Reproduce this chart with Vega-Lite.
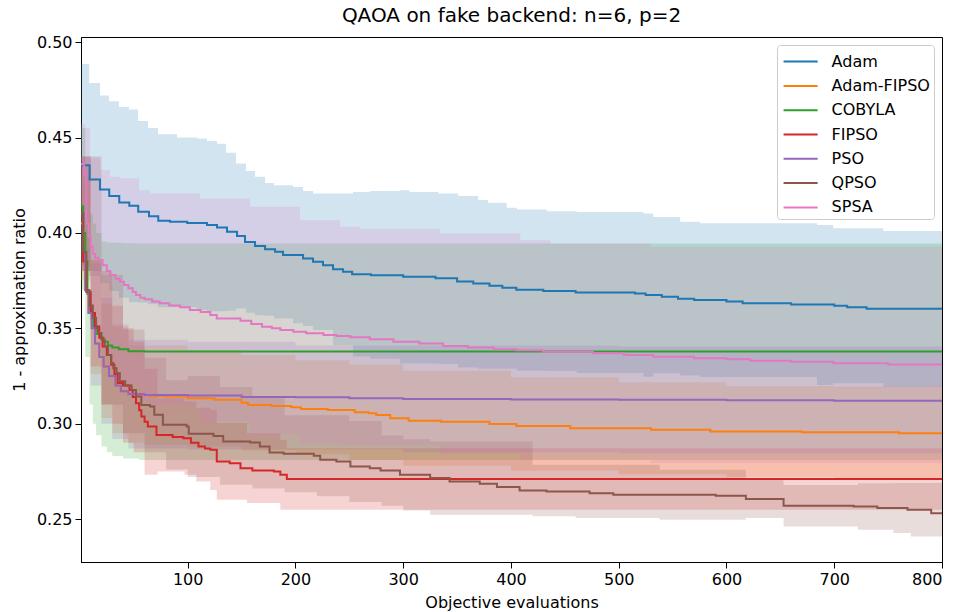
{
  "$schema": "https://vega.github.io/schema/vega-lite/v6.json",
  "width": 861,
  "height": 525,
  "autosize": {"type": "none"},
  "padding": {"left": 81, "top": 37, "right": 17, "bottom": 50},
  "title": {"text": "QAOA on fake backend: n=6, p=2", "fontSize": 20, "font": "DejaVu Sans", "fontWeight": "normal", "offset": 8, "color": "black"},
  "config": {
    "font": "DejaVu Sans",
    "view": {"stroke": "black", "strokeWidth": 1},
    "axis": {"grid": false, "domainColor": "black", "tickColor": "black", "labelColor": "black", "titleColor": "black", "labelFontSize": 16, "titleFontSize": 16, "titleFontWeight": "normal", "tickSize": 6, "labelFont": "DejaVu Sans", "titleFont": "DejaVu Sans"},
    "legend": {"orient": "top-right", "offset": 8, "fillColor": "white", "strokeColor": "#cccccc", "cornerRadius": 3, "padding": 3.6, "labelFontSize": 16, "labelFont": "DejaVu Sans", "labelColor": "black", "symbolType": "M-1.42,0H1.42", "symbolStrokeWidth": 2, "symbolSize": 576, "rowPadding": 3.3, "symbolOffset": 7, "labelOffset": 18, "symbolOpacity": 1}
  },
  "datasets": {
    "lines": [
      {"algo": "Adam", "x": 1, "y": 0.4355}, {"algo": "Adam", "x": 9, "y": 0.428}, {"algo": "Adam", "x": 18.6, "y": 0.4228}, {"algo": "Adam", "x": 27.2, "y": 0.4193}, {"algo": "Adam", "x": 36.5, "y": 0.416}, {"algo": "Adam", "x": 45.8, "y": 0.4142}, {"algo": "Adam", "x": 54.1, "y": 0.4111}, {"algo": "Adam", "x": 64.1, "y": 0.4088}, {"algo": "Adam", "x": 72.7, "y": 0.4064}, {"algo": "Adam", "x": 83.6, "y": 0.4058}, {"algo": "Adam", "x": 99.6, "y": 0.4052}, {"algo": "Adam", "x": 117.9, "y": 0.4042}, {"algo": "Adam", "x": 127.2, "y": 0.4029}, {"algo": "Adam", "x": 136.5, "y": 0.4006}, {"algo": "Adam", "x": 145.8, "y": 0.3984}, {"algo": "Adam", "x": 153.2, "y": 0.3953}, {"algo": "Adam", "x": 162.5, "y": 0.3931}, {"algo": "Adam", "x": 171.8, "y": 0.3914}, {"algo": "Adam", "x": 181.1, "y": 0.3901}, {"algo": "Adam", "x": 188.5, "y": 0.3884}, {"algo": "Adam", "x": 207.1, "y": 0.3866}, {"algo": "Adam", "x": 216.3, "y": 0.3849}, {"algo": "Adam", "x": 225.6, "y": 0.3831}, {"algo": "Adam", "x": 234.9, "y": 0.3809}, {"algo": "Adam", "x": 244.2, "y": 0.3796}, {"algo": "Adam", "x": 252.6, "y": 0.3783}, {"algo": "Adam", "x": 270, "y": 0.3778}, {"algo": "Adam", "x": 300, "y": 0.377}, {"algo": "Adam", "x": 330, "y": 0.3762}, {"algo": "Adam", "x": 350, "y": 0.3745}, {"algo": "Adam", "x": 365, "y": 0.3735}, {"algo": "Adam", "x": 380, "y": 0.3723}, {"algo": "Adam", "x": 392, "y": 0.3712}, {"algo": "Adam", "x": 405, "y": 0.3702}, {"algo": "Adam", "x": 430, "y": 0.3695}, {"algo": "Adam", "x": 460, "y": 0.3688}, {"algo": "Adam", "x": 515, "y": 0.3683}, {"algo": "Adam", "x": 525, "y": 0.3674}, {"algo": "Adam", "x": 540, "y": 0.3665}, {"algo": "Adam", "x": 555, "y": 0.3655}, {"algo": "Adam", "x": 570, "y": 0.3648}, {"algo": "Adam", "x": 600, "y": 0.364}, {"algo": "Adam", "x": 615, "y": 0.3631}, {"algo": "Adam", "x": 660, "y": 0.3625}, {"algo": "Adam", "x": 700, "y": 0.3618}, {"algo": "Adam", "x": 712, "y": 0.361}, {"algo": "Adam", "x": 730, "y": 0.3602}, {"algo": "Adam", "x": 800, "y": 0.3602},

      {"algo": "Adam-FIPSO", "x": 1, "y": 0.405}, {"algo": "Adam-FIPSO", "x": 3, "y": 0.385}, {"algo": "Adam-FIPSO", "x": 5, "y": 0.37}, {"algo": "Adam-FIPSO", "x": 8, "y": 0.358}, {"algo": "Adam-FIPSO", "x": 11, "y": 0.35}, {"algo": "Adam-FIPSO", "x": 14, "y": 0.342}, {"algo": "Adam-FIPSO", "x": 18, "y": 0.335}, {"algo": "Adam-FIPSO", "x": 22, "y": 0.33}, {"algo": "Adam-FIPSO", "x": 27, "y": 0.325}, {"algo": "Adam-FIPSO", "x": 33, "y": 0.32}, {"algo": "Adam-FIPSO", "x": 38, "y": 0.317}, {"algo": "Adam-FIPSO", "x": 45, "y": 0.3155}, {"algo": "Adam-FIPSO", "x": 55, "y": 0.315}, {"algo": "Adam-FIPSO", "x": 65, "y": 0.3145}, {"algo": "Adam-FIPSO", "x": 80, "y": 0.3142}, {"algo": "Adam-FIPSO", "x": 100, "y": 0.3134}, {"algo": "Adam-FIPSO", "x": 125, "y": 0.3125}, {"algo": "Adam-FIPSO", "x": 150, "y": 0.311}, {"algo": "Adam-FIPSO", "x": 156, "y": 0.3098}, {"algo": "Adam-FIPSO", "x": 178, "y": 0.3093}, {"algo": "Adam-FIPSO", "x": 196, "y": 0.3086}, {"algo": "Adam-FIPSO", "x": 205, "y": 0.3077}, {"algo": "Adam-FIPSO", "x": 230, "y": 0.3072}, {"algo": "Adam-FIPSO", "x": 255, "y": 0.306}, {"algo": "Adam-FIPSO", "x": 268, "y": 0.3055}, {"algo": "Adam-FIPSO", "x": 275, "y": 0.3046}, {"algo": "Adam-FIPSO", "x": 288, "y": 0.3029}, {"algo": "Adam-FIPSO", "x": 305, "y": 0.3016}, {"algo": "Adam-FIPSO", "x": 335, "y": 0.301}, {"algo": "Adam-FIPSO", "x": 380, "y": 0.2999}, {"algo": "Adam-FIPSO", "x": 405, "y": 0.2988}, {"algo": "Adam-FIPSO", "x": 455, "y": 0.2976}, {"algo": "Adam-FIPSO", "x": 530, "y": 0.2968}, {"algo": "Adam-FIPSO", "x": 585, "y": 0.2959}, {"algo": "Adam-FIPSO", "x": 670, "y": 0.2955}, {"algo": "Adam-FIPSO", "x": 760, "y": 0.295}, {"algo": "Adam-FIPSO", "x": 800, "y": 0.295},

      {"algo": "COBYLA", "x": 1, "y": 0.414}, {"algo": "COBYLA", "x": 3, "y": 0.4}, {"algo": "COBYLA", "x": 5, "y": 0.385}, {"algo": "COBYLA", "x": 7, "y": 0.368}, {"algo": "COBYLA", "x": 9, "y": 0.36}, {"algo": "COBYLA", "x": 11, "y": 0.355}, {"algo": "COBYLA", "x": 13, "y": 0.351}, {"algo": "COBYLA", "x": 16, "y": 0.347}, {"algo": "COBYLA", "x": 19, "y": 0.345}, {"algo": "COBYLA", "x": 22, "y": 0.343}, {"algo": "COBYLA", "x": 26, "y": 0.341}, {"algo": "COBYLA", "x": 30, "y": 0.34}, {"algo": "COBYLA", "x": 36, "y": 0.339}, {"algo": "COBYLA", "x": 45, "y": 0.338}, {"algo": "COBYLA", "x": 60, "y": 0.3378}, {"algo": "COBYLA", "x": 800, "y": 0.3377},

      {"algo": "FIPSO", "x": 1, "y": 0.41}, {"algo": "FIPSO", "x": 3, "y": 0.385}, {"algo": "FIPSO", "x": 6, "y": 0.369}, {"algo": "FIPSO", "x": 10, "y": 0.358}, {"algo": "FIPSO", "x": 14, "y": 0.3509}, {"algo": "FIPSO", "x": 18, "y": 0.345}, {"algo": "FIPSO", "x": 21, "y": 0.3405}, {"algo": "FIPSO", "x": 25, "y": 0.336}, {"algo": "FIPSO", "x": 29, "y": 0.3309}, {"algo": "FIPSO", "x": 32, "y": 0.326}, {"algo": "FIPSO", "x": 35, "y": 0.3213}, {"algo": "FIPSO", "x": 40, "y": 0.32}, {"algo": "FIPSO", "x": 46, "y": 0.3177}, {"algo": "FIPSO", "x": 49, "y": 0.314}, {"algo": "FIPSO", "x": 52, "y": 0.3107}, {"algo": "FIPSO", "x": 55, "y": 0.307}, {"algo": "FIPSO", "x": 57, "y": 0.3038}, {"algo": "FIPSO", "x": 60, "y": 0.301}, {"algo": "FIPSO", "x": 63, "y": 0.2985}, {"algo": "FIPSO", "x": 71, "y": 0.2941}, {"algo": "FIPSO", "x": 86, "y": 0.293}, {"algo": "FIPSO", "x": 96, "y": 0.2924}, {"algo": "FIPSO", "x": 103, "y": 0.29}, {"algo": "FIPSO", "x": 110, "y": 0.288}, {"algo": "FIPSO", "x": 116, "y": 0.287}, {"algo": "FIPSO", "x": 121, "y": 0.2863}, {"algo": "FIPSO", "x": 127, "y": 0.2802}, {"algo": "FIPSO", "x": 139, "y": 0.2793}, {"algo": "FIPSO", "x": 149, "y": 0.2767}, {"algo": "FIPSO", "x": 160, "y": 0.2755}, {"algo": "FIPSO", "x": 167, "y": 0.2754}, {"algo": "FIPSO", "x": 180, "y": 0.2749}, {"algo": "FIPSO", "x": 186, "y": 0.2732}, {"algo": "FIPSO", "x": 192, "y": 0.271}, {"algo": "FIPSO", "x": 800, "y": 0.271},

      {"algo": "PSO", "x": 1, "y": 0.41}, {"algo": "PSO", "x": 3, "y": 0.39}, {"algo": "PSO", "x": 5, "y": 0.37}, {"algo": "PSO", "x": 8, "y": 0.358}, {"algo": "PSO", "x": 11, "y": 0.35}, {"algo": "PSO", "x": 14, "y": 0.342}, {"algo": "PSO", "x": 18, "y": 0.335}, {"algo": "PSO", "x": 22, "y": 0.33}, {"algo": "PSO", "x": 27, "y": 0.325}, {"algo": "PSO", "x": 33, "y": 0.32}, {"algo": "PSO", "x": 38, "y": 0.317}, {"algo": "PSO", "x": 45, "y": 0.3155}, {"algo": "PSO", "x": 60, "y": 0.315}, {"algo": "PSO", "x": 100, "y": 0.3148}, {"algo": "PSO", "x": 150, "y": 0.314}, {"algo": "PSO", "x": 200, "y": 0.3138}, {"algo": "PSO", "x": 250, "y": 0.3133}, {"algo": "PSO", "x": 300, "y": 0.313}, {"algo": "PSO", "x": 400, "y": 0.3127}, {"algo": "PSO", "x": 500, "y": 0.3125}, {"algo": "PSO", "x": 600, "y": 0.3123}, {"algo": "PSO", "x": 700, "y": 0.312}, {"algo": "PSO", "x": 800, "y": 0.3116},

      {"algo": "QPSO", "x": 1, "y": 0.41}, {"algo": "QPSO", "x": 3, "y": 0.39}, {"algo": "QPSO", "x": 6, "y": 0.37}, {"algo": "QPSO", "x": 9, "y": 0.362}, {"algo": "QPSO", "x": 12, "y": 0.3555}, {"algo": "QPSO", "x": 15, "y": 0.35}, {"algo": "QPSO", "x": 17, "y": 0.3475}, {"algo": "QPSO", "x": 20, "y": 0.344}, {"algo": "QPSO", "x": 23, "y": 0.3405}, {"algo": "QPSO", "x": 26, "y": 0.336}, {"algo": "QPSO", "x": 29, "y": 0.3318}, {"algo": "QPSO", "x": 31, "y": 0.329}, {"algo": "QPSO", "x": 34, "y": 0.3266}, {"algo": "QPSO", "x": 37, "y": 0.3222}, {"algo": "QPSO", "x": 42, "y": 0.32}, {"algo": "QPSO", "x": 48, "y": 0.3177}, {"algo": "QPSO", "x": 52, "y": 0.3142}, {"algo": "QPSO", "x": 57, "y": 0.3098}, {"algo": "QPSO", "x": 65, "y": 0.309}, {"algo": "QPSO", "x": 69, "y": 0.3047}, {"algo": "QPSO", "x": 77, "y": 0.2994}, {"algo": "QPSO", "x": 99, "y": 0.2985}, {"algo": "QPSO", "x": 101, "y": 0.2947}, {"algo": "QPSO", "x": 124, "y": 0.2936}, {"algo": "QPSO", "x": 133, "y": 0.2906}, {"algo": "QPSO", "x": 158, "y": 0.2901}, {"algo": "QPSO", "x": 167, "y": 0.288}, {"algo": "QPSO", "x": 176, "y": 0.2849}, {"algo": "QPSO", "x": 189, "y": 0.2842}, {"algo": "QPSO", "x": 217, "y": 0.2832}, {"algo": "QPSO", "x": 223, "y": 0.2811}, {"algo": "QPSO", "x": 238, "y": 0.2802}, {"algo": "QPSO", "x": 251, "y": 0.2776}, {"algo": "QPSO", "x": 269, "y": 0.2767}, {"algo": "QPSO", "x": 279, "y": 0.2754}, {"algo": "QPSO", "x": 297, "y": 0.2732}, {"algo": "QPSO", "x": 325, "y": 0.2715}, {"algo": "QPSO", "x": 343, "y": 0.2697}, {"algo": "QPSO", "x": 371, "y": 0.2685}, {"algo": "QPSO", "x": 387, "y": 0.2668}, {"algo": "QPSO", "x": 408, "y": 0.265}, {"algo": "QPSO", "x": 433, "y": 0.2645}, {"algo": "QPSO", "x": 473, "y": 0.2636}, {"algo": "QPSO", "x": 495, "y": 0.2627}, {"algo": "QPSO", "x": 590, "y": 0.2622}, {"algo": "QPSO", "x": 618, "y": 0.2605}, {"algo": "QPSO", "x": 653, "y": 0.257}, {"algo": "QPSO", "x": 718, "y": 0.2566}, {"algo": "QPSO", "x": 740, "y": 0.2558}, {"algo": "QPSO", "x": 768, "y": 0.2549}, {"algo": "QPSO", "x": 790, "y": 0.2531}, {"algo": "QPSO", "x": 800, "y": 0.2531},

      {"algo": "SPSA", "x": 1, "y": 0.436}, {"algo": "SPSA", "x": 4, "y": 0.43}, {"algo": "SPSA", "x": 6, "y": 0.405}, {"algo": "SPSA", "x": 8, "y": 0.398}, {"algo": "SPSA", "x": 10, "y": 0.393}, {"algo": "SPSA", "x": 12, "y": 0.389}, {"algo": "SPSA", "x": 14, "y": 0.387}, {"algo": "SPSA", "x": 17, "y": 0.3858}, {"algo": "SPSA", "x": 21, "y": 0.3831}, {"algo": "SPSA", "x": 25, "y": 0.38}, {"algo": "SPSA", "x": 28, "y": 0.378}, {"algo": "SPSA", "x": 33, "y": 0.376}, {"algo": "SPSA", "x": 37, "y": 0.3744}, {"algo": "SPSA", "x": 41, "y": 0.3727}, {"algo": "SPSA", "x": 45, "y": 0.371}, {"algo": "SPSA", "x": 49, "y": 0.369}, {"algo": "SPSA", "x": 52, "y": 0.3674}, {"algo": "SPSA", "x": 56, "y": 0.366}, {"algo": "SPSA", "x": 60, "y": 0.3652}, {"algo": "SPSA", "x": 67, "y": 0.364}, {"algo": "SPSA", "x": 74, "y": 0.3631}, {"algo": "SPSA", "x": 83, "y": 0.362}, {"algo": "SPSA", "x": 93, "y": 0.361}, {"algo": "SPSA", "x": 102, "y": 0.3596}, {"algo": "SPSA", "x": 112, "y": 0.3585}, {"algo": "SPSA", "x": 121, "y": 0.357}, {"algo": "SPSA", "x": 127, "y": 0.3552}, {"algo": "SPSA", "x": 149, "y": 0.354}, {"algo": "SPSA", "x": 159, "y": 0.3522}, {"algo": "SPSA", "x": 169, "y": 0.3508}, {"algo": "SPSA", "x": 178, "y": 0.35}, {"algo": "SPSA", "x": 186, "y": 0.3491}, {"algo": "SPSA", "x": 198, "y": 0.3482}, {"algo": "SPSA", "x": 210, "y": 0.3474}, {"algo": "SPSA", "x": 226, "y": 0.3465}, {"algo": "SPSA", "x": 238, "y": 0.346}, {"algo": "SPSA", "x": 251, "y": 0.3453}, {"algo": "SPSA", "x": 269, "y": 0.3442}, {"algo": "SPSA", "x": 291, "y": 0.343}, {"algo": "SPSA", "x": 315, "y": 0.342}, {"algo": "SPSA", "x": 337, "y": 0.3407}, {"algo": "SPSA", "x": 360, "y": 0.34}, {"algo": "SPSA", "x": 384, "y": 0.339}, {"algo": "SPSA", "x": 405, "y": 0.3385}, {"algo": "SPSA", "x": 430, "y": 0.3377}, {"algo": "SPSA", "x": 476, "y": 0.3369}, {"algo": "SPSA", "x": 505, "y": 0.336}, {"algo": "SPSA", "x": 532, "y": 0.3351}, {"algo": "SPSA", "x": 570, "y": 0.3343}, {"algo": "SPSA", "x": 600, "y": 0.3338}, {"algo": "SPSA", "x": 622, "y": 0.333}, {"algo": "SPSA", "x": 660, "y": 0.3325}, {"algo": "SPSA", "x": 699, "y": 0.3317}, {"algo": "SPSA", "x": 750, "y": 0.331}, {"algo": "SPSA", "x": 800, "y": 0.3304}
    ],
    "bands": [
      {"algo": "Adam", "x": 1, "lo": 0.3825, "hi": 0.4885}, {"algo": "Adam", "x": 8.6, "lo": 0.3774, "hi": 0.4786}, {"algo": "Adam", "x": 18.6, "lo": 0.3736, "hi": 0.472}, {"algo": "Adam", "x": 27, "lo": 0.3696, "hi": 0.469}, {"algo": "Adam", "x": 36.2, "lo": 0.366, "hi": 0.466}, {"algo": "Adam", "x": 45.5, "lo": 0.3637, "hi": 0.4647}, {"algo": "Adam", "x": 53.9, "lo": 0.3635, "hi": 0.4587}, {"algo": "Adam", "x": 63.2, "lo": 0.3626, "hi": 0.455}, {"algo": "Adam", "x": 72.4, "lo": 0.3611, "hi": 0.4517}, {"algo": "Adam", "x": 90.1, "lo": 0.361, "hi": 0.45}, {"algo": "Adam", "x": 108.6, "lo": 0.3597, "hi": 0.4495}, {"algo": "Adam", "x": 117.9, "lo": 0.359, "hi": 0.4482}, {"algo": "Adam", "x": 127.2, "lo": 0.359, "hi": 0.4468}, {"algo": "Adam", "x": 135.6, "lo": 0.3592, "hi": 0.442}, {"algo": "Adam", "x": 144.8, "lo": 0.3604, "hi": 0.4364}, {"algo": "Adam", "x": 154.1, "lo": 0.3582, "hi": 0.4324}, {"algo": "Adam", "x": 162.5, "lo": 0.3568, "hi": 0.4294}, {"algo": "Adam", "x": 171.8, "lo": 0.3566, "hi": 0.4262}, {"algo": "Adam", "x": 180.1, "lo": 0.3552, "hi": 0.425}, {"algo": "Adam", "x": 197.8, "lo": 0.3527, "hi": 0.4241}, {"algo": "Adam", "x": 207.1, "lo": 0.3512, "hi": 0.422}, {"algo": "Adam", "x": 216.4, "lo": 0.3491, "hi": 0.4207}, {"algo": "Adam", "x": 234.9, "lo": 0.3411, "hi": 0.4207}, {"algo": "Adam", "x": 253.5, "lo": 0.3352, "hi": 0.4214}, {"algo": "Adam", "x": 269.3, "lo": 0.334, "hi": 0.422}, {"algo": "Adam", "x": 297, "lo": 0.3316, "hi": 0.4224}, {"algo": "Adam", "x": 306, "lo": 0.3315, "hi": 0.4215}, {"algo": "Adam", "x": 332.6, "lo": 0.3313, "hi": 0.4207}, {"algo": "Adam", "x": 351, "lo": 0.3295, "hi": 0.4193}, {"algo": "Adam", "x": 369.5, "lo": 0.3288, "hi": 0.4172}, {"algo": "Adam", "x": 378.8, "lo": 0.3288, "hi": 0.4158}, {"algo": "Adam", "x": 396, "lo": 0.3288, "hi": 0.4132}, {"algo": "Adam", "x": 405.5, "lo": 0.3277, "hi": 0.4123}, {"algo": "Adam", "x": 433.3, "lo": 0.3276, "hi": 0.4114}, {"algo": "Adam", "x": 461, "lo": 0.3266, "hi": 0.411}, {"algo": "Adam", "x": 523, "lo": 0.3246, "hi": 0.4102}, {"algo": "Adam", "x": 532, "lo": 0.3264, "hi": 0.4084}, {"algo": "Adam", "x": 557, "lo": 0.3252, "hi": 0.4058}, {"algo": "Adam", "x": 575.7, "lo": 0.3245, "hi": 0.4051}, {"algo": "Adam", "x": 684, "lo": 0.3203, "hi": 0.4041}, {"algo": "Adam", "x": 699, "lo": 0.3212, "hi": 0.4024}, {"algo": "Adam", "x": 745.5, "lo": 0.3192, "hi": 0.401}, {"algo": "Adam", "x": 800, "lo": 0.3192, "hi": 0.401},

      {"algo": "Adam-FIPSO", "x": 1, "lo": 0.375, "hi": 0.435}, {"algo": "Adam-FIPSO", "x": 10, "lo": 0.326, "hi": 0.386}, {"algo": "Adam-FIPSO", "x": 20, "lo": 0.303, "hi": 0.363}, {"algo": "Adam-FIPSO", "x": 30, "lo": 0.295, "hi": 0.351}, {"algo": "Adam-FIPSO", "x": 45, "lo": 0.29, "hi": 0.341}, {"algo": "Adam-FIPSO", "x": 60, "lo": 0.289, "hi": 0.341}, {"algo": "Adam-FIPSO", "x": 100, "lo": 0.288, "hi": 0.3388}, {"algo": "Adam-FIPSO", "x": 150, "lo": 0.286, "hi": 0.336}, {"algo": "Adam-FIPSO", "x": 200, "lo": 0.284, "hi": 0.3332}, {"algo": "Adam-FIPSO", "x": 250, "lo": 0.281, "hi": 0.331}, {"algo": "Adam-FIPSO", "x": 300, "lo": 0.278, "hi": 0.3278}, {"algo": "Adam-FIPSO", "x": 400, "lo": 0.2755, "hi": 0.3243}, {"algo": "Adam-FIPSO", "x": 500, "lo": 0.2735, "hi": 0.3217}, {"algo": "Adam-FIPSO", "x": 600, "lo": 0.272, "hi": 0.3198}, {"algo": "Adam-FIPSO", "x": 700, "lo": 0.2715, "hi": 0.3195}, {"algo": "Adam-FIPSO", "x": 800, "lo": 0.271, "hi": 0.319},

      {"algo": "COBYLA", "x": 1, "lo": 0.37, "hi": 0.455}, {"algo": "COBYLA", "x": 5, "lo": 0.335, "hi": 0.43}, {"algo": "COBYLA", "x": 9, "lo": 0.31, "hi": 0.41}, {"algo": "COBYLA", "x": 12, "lo": 0.3, "hi": 0.405}, {"algo": "COBYLA", "x": 15, "lo": 0.294, "hi": 0.4}, {"algo": "COBYLA", "x": 20, "lo": 0.288, "hi": 0.3955}, {"algo": "COBYLA", "x": 25, "lo": 0.285, "hi": 0.395}, {"algo": "COBYLA", "x": 30, "lo": 0.283, "hi": 0.3948}, {"algo": "COBYLA", "x": 40, "lo": 0.2818, "hi": 0.3946}, {"algo": "COBYLA", "x": 55, "lo": 0.281, "hi": 0.3945}, {"algo": "COBYLA", "x": 800, "lo": 0.281, "hi": 0.3945},

      {"algo": "FIPSO", "x": 1, "lo": 0.38, "hi": 0.44}, {"algo": "FIPSO", "x": 10, "lo": 0.33, "hi": 0.386}, {"algo": "FIPSO", "x": 20, "lo": 0.31, "hi": 0.38}, {"algo": "FIPSO", "x": 30, "lo": 0.3, "hi": 0.3618}, {"algo": "FIPSO", "x": 40, "lo": 0.29, "hi": 0.35}, {"algo": "FIPSO", "x": 50, "lo": 0.285, "hi": 0.343}, {"algo": "FIPSO", "x": 60, "lo": 0.2732, "hi": 0.3288}, {"algo": "FIPSO", "x": 72, "lo": 0.2749, "hi": 0.3133}, {"algo": "FIPSO", "x": 97, "lo": 0.2732, "hi": 0.3116}, {"algo": "FIPSO", "x": 108, "lo": 0.2697, "hi": 0.3083}, {"algo": "FIPSO", "x": 121, "lo": 0.2653, "hi": 0.3073}, {"algo": "FIPSO", "x": 127, "lo": 0.2601, "hi": 0.3003}, {"algo": "FIPSO", "x": 155, "lo": 0.2584, "hi": 0.295}, {"algo": "FIPSO", "x": 186, "lo": 0.2549, "hi": 0.2915}, {"algo": "FIPSO", "x": 192, "lo": 0.2549, "hi": 0.2871}, {"algo": "FIPSO", "x": 800, "lo": 0.2549, "hi": 0.2871},

      {"algo": "PSO", "x": 1, "lo": 0.38, "hi": 0.44}, {"algo": "PSO", "x": 10, "lo": 0.32, "hi": 0.384}, {"algo": "PSO", "x": 20, "lo": 0.3, "hi": 0.366}, {"algo": "PSO", "x": 30, "lo": 0.292, "hi": 0.352}, {"algo": "PSO", "x": 45, "lo": 0.287, "hi": 0.344}, {"algo": "PSO", "x": 100, "lo": 0.2865, "hi": 0.343}, {"algo": "PSO", "x": 200, "lo": 0.2866, "hi": 0.341}, {"algo": "PSO", "x": 300, "lo": 0.285, "hi": 0.341}, {"algo": "PSO", "x": 500, "lo": 0.2845, "hi": 0.3405}, {"algo": "PSO", "x": 800, "lo": 0.2832, "hi": 0.34},

      {"algo": "QPSO", "x": 1, "lo": 0.38, "hi": 0.44}, {"algo": "QPSO", "x": 20, "lo": 0.31, "hi": 0.378}, {"algo": "QPSO", "x": 40, "lo": 0.295, "hi": 0.3494}, {"algo": "QPSO", "x": 60, "lo": 0.285, "hi": 0.3346}, {"algo": "QPSO", "x": 80, "lo": 0.276, "hi": 0.3228}, {"algo": "QPSO", "x": 100, "lo": 0.272, "hi": 0.325}, {"algo": "QPSO", "x": 130, "lo": 0.268, "hi": 0.3192}, {"algo": "QPSO", "x": 160, "lo": 0.266, "hi": 0.3142}, {"algo": "QPSO", "x": 190, "lo": 0.264, "hi": 0.3044}, {"algo": "QPSO", "x": 220, "lo": 0.262, "hi": 0.3044}, {"algo": "QPSO", "x": 250, "lo": 0.259, "hi": 0.3014}, {"algo": "QPSO", "x": 280, "lo": 0.257, "hi": 0.2938}, {"algo": "QPSO", "x": 300, "lo": 0.2545, "hi": 0.2919}, {"algo": "QPSO", "x": 325, "lo": 0.2523, "hi": 0.2907}, {"algo": "QPSO", "x": 420, "lo": 0.2515, "hi": 0.2785}, {"algo": "QPSO", "x": 460, "lo": 0.2505, "hi": 0.2785}, {"algo": "QPSO", "x": 538, "lo": 0.2496, "hi": 0.2758}, {"algo": "QPSO", "x": 618, "lo": 0.2505, "hi": 0.2705}, {"algo": "QPSO", "x": 653, "lo": 0.2461, "hi": 0.2679}, {"algo": "QPSO", "x": 722, "lo": 0.2444, "hi": 0.2688}, {"algo": "QPSO", "x": 755, "lo": 0.2427, "hi": 0.2689}, {"algo": "QPSO", "x": 771, "lo": 0.2409, "hi": 0.2689}, {"algo": "QPSO", "x": 800, "lo": 0.2402, "hi": 0.266},

      {"algo": "SPSA", "x": 1, "lo": 0.415, "hi": 0.457}, {"algo": "SPSA", "x": 4.6, "lo": 0.405, "hi": 0.455}, {"algo": "SPSA", "x": 9.3, "lo": 0.351, "hi": 0.439}, {"algo": "SPSA", "x": 18.6, "lo": 0.3386, "hi": 0.433}, {"algo": "SPSA", "x": 27.9, "lo": 0.3306, "hi": 0.4294}, {"algo": "SPSA", "x": 37.2, "lo": 0.3201, "hi": 0.4287}, {"algo": "SPSA", "x": 54.8, "lo": 0.3124, "hi": 0.4224}, {"algo": "SPSA", "x": 65, "lo": 0.3097, "hi": 0.4207}, {"algo": "SPSA", "x": 111.4, "lo": 0.3012, "hi": 0.418}, {"algo": "SPSA", "x": 157.8, "lo": 0.2943, "hi": 0.4137}, {"algo": "SPSA", "x": 204.2, "lo": 0.2897, "hi": 0.4067}, {"algo": "SPSA", "x": 241.4, "lo": 0.2888, "hi": 0.4032}, {"algo": "SPSA", "x": 260, "lo": 0.2886, "hi": 0.402}, {"algo": "SPSA", "x": 334.3, "lo": 0.2843, "hi": 0.3997}, {"algo": "SPSA", "x": 408.6, "lo": 0.2808, "hi": 0.3962}, {"algo": "SPSA", "x": 436.5, "lo": 0.2809, "hi": 0.3945}, {"algo": "SPSA", "x": 529.5, "lo": 0.2793, "hi": 0.3927}, {"algo": "SPSA", "x": 800, "lo": 0.2728, "hi": 0.388}
    ]
  },
  "layer": [
    {
      "data": {"name": "bands"},
      "mark": {"type": "area", "interpolate": "step-after", "fillOpacity": 0.2, "clip": true},
      "encoding": {
        "x": {"field": "x", "type": "quantitative", "scale": {"domain": [1, 800], "nice": false, "zero": false}, "axis": {"values": [100, 200, 300, 400, 500, 600, 700, 800], "title": "Objective evaluations", "labelPadding": 3, "titlePadding": 7}},
        "y": {"field": "lo", "type": "quantitative", "scale": {"domain": [0.2275, 0.5027], "nice": false, "zero": false}, "axis": {"values": [0.25, 0.3, 0.35, 0.4, 0.45, 0.5], "format": ".2f", "title": "1 - approximation ratio", "labelPadding": 3, "titlePadding": 9}},
        "y2": {"field": "hi"},
        "color": {"field": "algo", "type": "nominal", "scale": {"domain": ["Adam", "Adam-FIPSO", "COBYLA", "FIPSO", "PSO", "QPSO", "SPSA"], "range": ["#1f77b4", "#ff7f0e", "#2ca02c", "#d62728", "#9467bd", "#8c564b", "#e377c2"]}, "legend": {"title": null}}
      }
    },
    {
      "data": {"name": "lines"},
      "mark": {"type": "line", "interpolate": "step-after", "strokeWidth": 2, "clip": true},
      "encoding": {
        "x": {"field": "x", "type": "quantitative"},
        "y": {"field": "y", "type": "quantitative"},
        "color": {"field": "algo", "type": "nominal", "legend": {"title": null}}
      }
    }
  ]
}
